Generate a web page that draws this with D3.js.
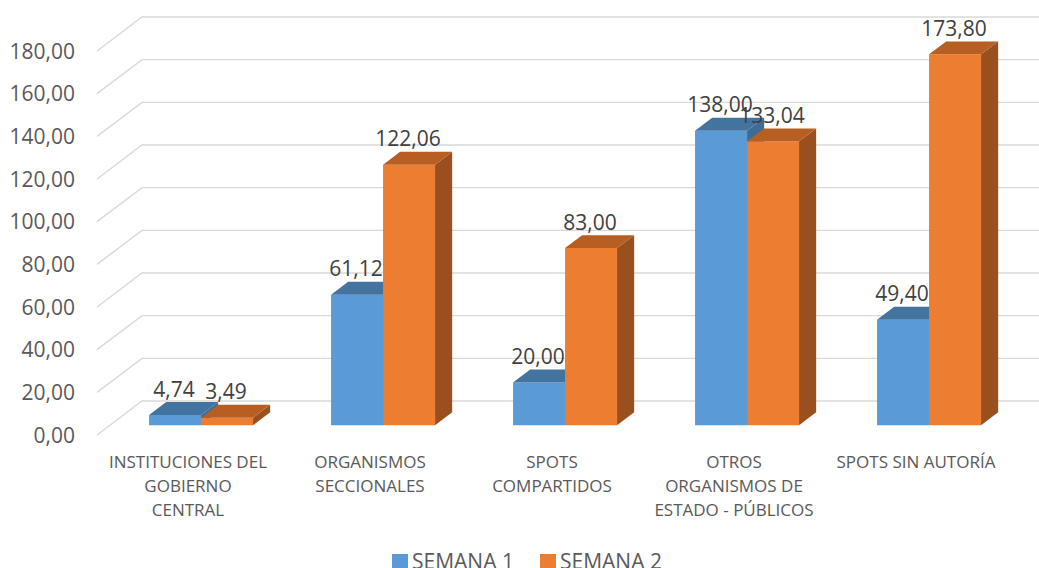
<!DOCTYPE html>
<html>
<head>
<meta charset="utf-8">
<script src="https://cdn.jsdelivr.net/npm/d3@7"></script>
<style>
  html, body { margin: 0; padding: 0; background: #ffffff; }
  svg { display: block; }
</style>
</head>
<body>
<svg id="chart" width="1039" height="568"></svg>
<script>
// ---- data ----
const categories = [
  "INSTITUCIONES DEL GOBIERNO CENTRAL",
  "ORGANISMOS SECCIONALES",
  "SPOTS COMPARTIDOS",
  "OTROS ORGANISMOS DE ESTADO - PÚBLICOS",
  "SPOTS SIN AUTORÍA"
];
const categoryTickLines = [
  ["INSTITUCIONES DEL", "GOBIERNO", "CENTRAL"],
  ["ORGANISMOS", "SECCIONALES"],
  ["SPOTS", "COMPARTIDOS"],
  ["OTROS", "ORGANISMOS DE", "ESTADO - PÚBLICOS"],
  ["SPOTS SIN AUTORÍA"]
];
const seriesNames = ["SEMANA 1", "SEMANA 2"];
const semana1 = [4.74, 61.12, 20.00, 138.00, 49.40];
const semana2 = [3.49, 122.06, 83.00, 133.04, 173.80];
const yTicks = [0, 20, 40, 60, 80, 100, 120, 140, 160, 180];

// ---- styling / layout ----
const W = 1039, H = 568;
const floorLeft = 97, floorRight = 1007;
const DX = 45, DY = 34;            // depth of the 3D box
const barD0 = 0.29, barD1 = 0.67;  // bar depth placement (fraction of box depth)
const colors = [
  { front: "#5B9BD5", top: "#43739F", side: "#3E6C95" },
  { front: "#ED7D31", top: "#B75E22", side: "#9A4F1E" }
];

const svg = d3.select("#chart");
const locale = d3.formatLocale({ decimal: ",", thousands: ".", grouping: [3], currency: ["", ""] });
const fmt = locale.format(".2f");

const x0 = d3.scaleBand()
  .domain(categories)
  .range([floorLeft, floorRight])
  .paddingInner(78 / 182)
  .paddingOuter(39 / 182);
const x1 = d3.scaleBand()
  .domain(seriesNames)
  .range([0, x0.bandwidth()]);
const y = d3.scaleLinear().domain([0, 180]).range([435, 51]);

const font = "'Open Sans', 'DejaVu Sans', sans-serif";

// ---- gridlines (floor-left edge slanted + back wall) ----
const gGrid = svg.append("g");
yTicks.forEach(t => {
  const yy = y(t);
  gGrid.append("polyline")
    .attr("points", `${floorLeft},${yy} ${floorLeft + DX},${yy - DY} ${W + 60},${yy - DY}`)
    .attr("fill", "none")
    .attr("stroke", "#d9d9d9")
    .attr("stroke-width", 1.4);
});

// ---- y axis labels ----
svg.append("g").selectAll("text")
  .data(yTicks)
  .join("text")
  .attr("x", 75)
  .attr("y", d => y(d) + 2)
  .attr("text-anchor", "end")
  .attr("dominant-baseline", "middle")
  .attr("font-family", font)
  .attr("font-size", 21)
  .attr("fill", "#595959")
  .text(d => fmt(d));

// ---- bars ----
const series = [semana1, semana2];
const pt = (xf, v, d) => [xf + DX * d, y(v) - DY * d];
const poly = pts => pts.map(p => p.join(",")).join(" ");

const gBars = svg.append("g");
categories.forEach((c, i) => {
  series.forEach((vals, s) => {
    const v = vals[i];
    const xa = x0(c) + x1(seriesNames[s]);
    const xb = xa + x1.bandwidth();
    const col = colors[s];
    // front face
    gBars.append("polygon")
      .attr("points", poly([pt(xa, 0, barD0), pt(xb, 0, barD0), pt(xb, v, barD0), pt(xa, v, barD0)]))
      .attr("fill", col.front);
    // right side
    gBars.append("polygon")
      .attr("points", poly([pt(xb, 0, barD0), pt(xb, 0, barD1), pt(xb, v, barD1), pt(xb, v, barD0)]))
      .attr("fill", col.side);
    // top
    gBars.append("polygon")
      .attr("points", poly([pt(xa, v, barD0), pt(xb, v, barD0), pt(xb, v, barD1), pt(xa, v, barD1)]))
      .attr("fill", col.top);
  });
});

// ---- data labels ----
const gLabels = svg.append("g");
categories.forEach((c, i) => {
  series.forEach((vals, s) => {
    const v = vals[i];
    const xa = x0(c) + x1(seriesNames[s]);
    const [fx, fy] = pt(xa + x1.bandwidth() / 2, v, barD0);
    gLabels.append("text")
      .attr("x", fx - 1)
      .attr("y", fy - 18.5)
      .attr("text-anchor", "middle")
      .attr("font-family", font)
      .attr("font-size", 21)
      .attr("fill", "#404040")
      .text(fmt(v));
  });
});

// ---- category labels ----
const gCat = svg.append("g");
categories.forEach((c, i) => {
  const cx = x0(c) + x0.bandwidth() / 2;
  const t = gCat.append("text")
    .attr("text-anchor", "middle")
    .attr("font-family", font)
    .attr("font-size", 17)
    .attr("fill", "#595959");
  categoryTickLines[i].forEach((line, k) => {
    t.append("tspan").attr("x", cx).attr("y", 468 + k * 24).text(line);
  });
});

// ---- legend ----
const legendX = [392, 540];
const gLeg = svg.append("g");
seriesNames.forEach((name, s) => {
  gLeg.append("rect")
    .attr("x", legendX[s]).attr("y", 554)
    .attr("width", 16).attr("height", 15)
    .attr("fill", colors[s].front);
  gLeg.append("text")
    .attr("x", legendX[s] + 20).attr("y", 569)
    .attr("font-family", font)
    .attr("font-size", 21)
    .attr("fill", "#595959")
    .text(name);
});
</script>
</body>
</html>
